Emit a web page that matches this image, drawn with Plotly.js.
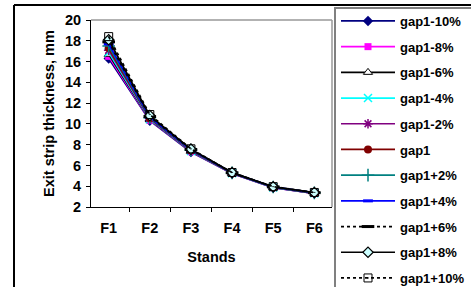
<!DOCTYPE html>
<html>
<head>
<meta charset="utf-8">
<script src="https://cdn.plot.ly/plotly-3.0.1.min.js"></script>
<style>html,body{margin:0;padding:0;background:#fff;overflow:hidden;width:471px;height:287px;}#chart{width:490px;height:300px;}</style>
</head>
<body>
<div id="chart"></div>
<script>
const stands = ["F1", "F2", "F3", "F4", "F5", "F6"];
const seriesNames = ["gap1-10%", "gap1-8%", "gap1-6%", "gap1-4%", "gap1-2%", "gap1", "gap1+2%", "gap1+4%", "gap1+6%", "gap1+8%", "gap1+10%"];
const gapM10 = [16.3, 10.3, 7.30, 5.22, 3.86, 3.30];
const gapM8  = [16.5, 10.35, 7.33, 5.23, 3.87, 3.31];
const gapM6  = [16.7, 10.4, 7.36, 5.24, 3.88, 3.32];
const gapM4  = [16.9, 10.45, 7.39, 5.25, 3.89, 3.33];
const gapM2  = [17.1, 10.5, 7.42, 5.26, 3.90, 3.34];
const gap0   = [17.3, 10.55, 7.45, 5.27, 3.91, 3.35];
const gapP2  = [17.5, 10.6, 7.48, 5.28, 3.92, 3.36];
const gapP4  = [17.7, 10.65, 7.51, 5.29, 3.93, 3.37];
const gapP6  = [17.9, 10.7, 7.54, 5.30, 3.94, 3.38];
const gapP8  = [18.1, 10.8, 7.57, 5.31, 3.95, 3.39];
const gapP10 = [18.4, 10.9, 7.60, 5.32, 3.96, 3.40];
const yTicks = [2, 4, 6, 8, 10, 12, 14, 16, 18, 20];

const allValues = [gapM10, gapM8, gapM6, gapM4, gapM2, gap0, gapP2, gapP4, gapP6, gapP8, gapP10];
const styles = [
  {line: {color: "#000080", width: 1.7}, marker: {symbol: "diamond", color: "#000080", size: 8}},
  {line: {color: "#FF00FF", width: 1.7}, marker: {symbol: "square", color: "#FF00FF", size: 7}},
  {line: {color: "#000000", width: 1.7}, marker: {symbol: "triangle-up", color: "#FFFFFF", size: 8, line: {color: "#000000", width: 1}}},
  {line: {color: "#00FFFF", width: 1.7}, marker: {symbol: "x-thin", color: "#00FFFF", size: 8, line: {color: "#00FFFF", width: 1.5}}},
  {line: {color: "#800080", width: 1.7}, marker: {symbol: "asterisk", color: "#800080", size: 8, line: {color: "#800080", width: 1.5}}},
  {line: {color: "#800000", width: 1.7}, marker: {symbol: "circle", color: "#800000", size: 8}},
  {line: {color: "#008080", width: 1.7}, marker: {symbol: "cross-thin", color: "#008080", size: 9, line: {color: "#008080", width: 1.5}}},
  {line: {color: "#0000FF", width: 1.7}, marker: {symbol: "line-ew", color: "#0000FF", size: 7, line: {color: "#0000FF", width: 3}}},
  {line: {color: "#000000", width: 1.7, dash: "dot"}, marker: {symbol: "line-ew", color: "#000000", size: 9, line: {color: "#000000", width: 3}}},
  {line: {color: "#000000", width: 1.7}, marker: {symbol: "diamond", color: "#CCFFFF", size: 8, line: {color: "#000000", width: 1.2}}},
  {line: {color: "#000000", width: 1.7, dash: "dot"}, marker: {symbol: "square-open-dot", color: "#000000", size: 8, line: {color: "#000000", width: 1}}}
];

const traces = allValues.map((vals, i) => ({
  x: stands, y: vals, name: seriesNames[i], type: "scatter", mode: "lines+markers",
  legendgroup: "g" + i, line: styles[i].line, marker: styles[i].marker
}));

const axisFont = {family: "Liberation Sans, Arial, sans-serif", size: 14.5, color: "#000", weight: "bold"};
const legendFont = {family: "Liberation Sans, Arial, sans-serif", size: 13, color: "#000", weight: "bold"};
const W = 490, H = 300;
const pxX = v => (v - 91) / 241;
const pxY = v => (207 - v) / 187;

const layout = {
  width: W, height: H,
  margin: {l: 91, r: W - 332, t: 20, b: H - 207, pad: 0, autoexpand: false},
  paper_bgcolor: "#fff", plot_bgcolor: "#fff",
  font: axisFont,
  showlegend: true,
  xaxis: {
    type: "category", tickson: "boundaries", ticks: "outside", ticklen: 4, tickcolor: "#000",
    showline: true, linecolor: "#000", linewidth: 1, showgrid: false, zeroline: false,
    tickfont: axisFont, ticklabelstandoff: 8, title: {text: "Stands", font: axisFont, standoff: 16}
  },
  yaxis: {
    range: [2, 20], tickvals: yTicks, ticks: "outside", ticklen: 4, tickcolor: "#000",
    showline: true, linecolor: "#000", linewidth: 1, showgrid: false, zeroline: false,
    tickfont: axisFont, ticklabelstandoff: 2, title: {text: "Exit strip thickness, mm", font: axisFont, standoff: 6}
  },
  legend: {
    x: pxX(336), y: pxY(6), xanchor: "left", yanchor: "top",
    font: legendFont, bgcolor: "rgba(0,0,0,0)", borderwidth: 0,
    traceorder: "grouped", tracegroupgap: 5.8, itemwidth: 54, maxheight: 2000
  },
  shapes: [
    {type: "line", xref: "paper", yref: "paper", x0: pxX(14), x1: pxX(14), y0: pxY(5), y1: pxY(300), line: {color: "#000", width: 2}},
    {type: "line", xref: "paper", yref: "paper", x0: pxX(14), x1: pxX(490), y0: pxY(5), y1: pxY(5), line: {color: "#000", width: 2}},
    {type: "line", xref: "paper", yref: "paper", x0: 0, x1: 1, y0: 1, y1: 1, line: {color: "#999", width: 1.5}},
    {type: "line", xref: "paper", yref: "paper", x0: 1, x1: 1, y0: 1, y1: 0, line: {color: "#999", width: 1.5}},
    {type: "rect", xref: "paper", yref: "paper", x0: pxX(335), x1: pxX(495), y0: pxY(8), y1: pxY(310), line: {color: "#808080", width: 2}}
  ]
};

Plotly.newPlot("chart", traces, layout, {displayModeBar: false, staticPlot: true});
</script>
</body>
</html>
